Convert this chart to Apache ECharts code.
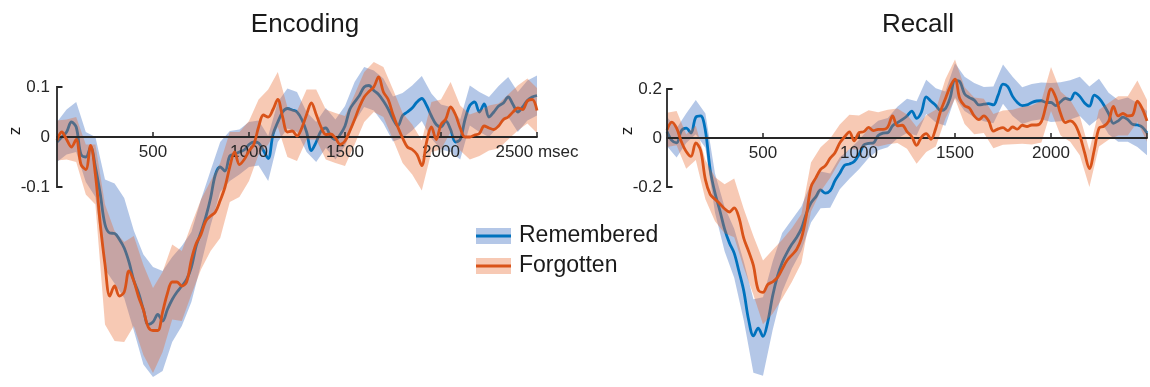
<!DOCTYPE html>
<html>
<head>
<meta charset="utf-8">
<script src="https://cdn.jsdelivr.net/npm/echarts@6/dist/echarts.min.js"></script>
<style>
html,body{margin:0;padding:0;background:#fff;}
#chart{width:1150px;height:387px;}
</style>
</head>
<body>
<div id="chart"></div>
<script>
// ---- time axis (msec), 25 ms samples for lines, every 2nd sample for bands ----
const times = Array.from({length: 101}, (_, i) => i * 25);
const xTicks = [500, 1000, 1500, 2000, 2500];
const encYTicks = [-0.1, 0, 0.1];
const recYTicks = [-0.2, 0, 0.2];
const panelTitles = ['Encoding', 'Recall'];
const seriesNames = ['Remembered', 'Forgotten'];

// ---- Encoding ----
const encRemembered = [
-0.01, 0.0, 0.01, 0.03, 0.02, -0.035, -0.04, -0.02, -0.06, -0.113,
-0.175, -0.192, -0.193, -0.205, -0.222, -0.25, -0.287, -0.312, -0.345, -0.375,
-0.37, -0.355, -0.368, -0.345, -0.325, -0.31, -0.298, -0.285, -0.26, -0.218,
-0.19, -0.16, -0.122, -0.075, -0.06, -0.068, -0.038, -0.034, -0.03, -0.026,
-0.015, -0.01, -0.012, -0.027, -0.043, 0.005, 0.03, 0.05, 0.057, 0.054,
0.05, 0.035, 0.01, -0.027, -0.01, 0.012, 0.018, 0.002, -0.005, 0.005,
0.022, 0.055, 0.07, 0.083, 0.1, 0.103, 0.093, 0.085, 0.072, 0.056,
0.036, 0.022, 0.043, 0.05, 0.058, 0.07, 0.077, 0.063, 0.042, 0.025,
0.02, 0.032, 0.015, -0.01, -0.005, 0.035, 0.063, 0.07, 0.05, 0.066,
0.04, 0.05, 0.062, 0.068, 0.08, 0.065, 0.05, 0.06, 0.073, 0.08,
0.083];
const encForgotten = [
-0.007, 0.01, -0.005, -0.02, -0.005, -0.055, -0.065, -0.017, -0.075, -0.173,
-0.255, -0.318, -0.298, -0.318, -0.31, -0.268, -0.288, -0.32, -0.346, -0.38,
-0.387, -0.387, -0.35, -0.313, -0.29, -0.29, -0.298, -0.29, -0.245, -0.213,
-0.195, -0.168, -0.158, -0.15, -0.127, -0.1, -0.06, -0.03, -0.055, -0.045,
-0.028, -0.015, 0.02, 0.044, 0.04, 0.055, 0.075, 0.04, 0.01, 0.012,
0.002, 0.018, 0.045, 0.068, 0.045, 0.02, 0.005, 0.006, -0.002, -0.015,
-0.008, 0.012, 0.035, 0.06, 0.08, 0.091, 0.1, 0.12, 0.09, 0.075,
0.045, 0.02, -0.002, -0.02, -0.025, -0.035, -0.057, -0.01, 0.02, -0.005,
0.025, 0.036, 0.06, 0.045, 0.018, 0, 0, 0.004, 0.007, 0.022,
0.018, 0.015, 0.022, 0.035, 0.04, 0.05, 0.058, 0.055, 0.072, 0.075,
0.053];
// band half-widths (SEM), every 50 ms
const encRememberedHW = [
0.04,0.045,0.05,0.05,0.06,0.09,0.1,0.1,0.1,0.11,
0.11,0.1,0.085,0.08,0.07,0.065,0.055,0.05,0.05,0.045,
0.045,0.045,0.045,0.04,0.04,0.04,0.04,0.04,0.04,0.04,
0.04,0.04,0.04,0.04,0.045,0.045,0.045,0.045,0.045,0.045,
0.045,0.045,0.04,0.04,0.04,0.04,0.04,0.04,0.04,0.04,
0.04];
const encForgottenHW = [
0.04,0.04,0.045,0.05,0.06,0.12,0.11,0.1,0.09,0.09,
0.085,0.08,0.075,0.07,0.07,0.07,0.07,0.075,0.07,0.065,
0.06,0.055,0.055,0.055,0.05,0.05,0.05,0.05,0.05,0.05,
0.05,0.05,0.05,0.05,0.05,0.05,0.05,0.05,0.05,0.05,
0.05,0.05,0.045,0.045,0.045,0.045,0.045,0.045,0.045,0.045,
0.045];

// ---- Recall ----
const recRemembered = [
0.026, -0.01, -0.02, 0.03, 0.04, 0.02, 0.085, 0.09, 0.03, -0.13,
-0.225, -0.295, -0.372, -0.428, -0.47, -0.545, -0.625, -0.742, -0.808, -0.776,
-0.81, -0.75, -0.645, -0.565, -0.508, -0.468, -0.434, -0.406, -0.37, -0.31,
-0.265, -0.24, -0.212, -0.225, -0.215, -0.174, -0.144, -0.111, -0.106, -0.096,
-0.068, -0.028, -0.022, -0.02, 0.01, 0.02, 0.022, 0.05, 0.063, 0.075,
0.09, 0.11, 0.08, 0.105, 0.168, 0.15, 0.133, 0.112, 0.12, 0.165,
0.235, 0.23, 0.18, 0.165, 0.155, 0.135, 0.138, 0.14, 0.135, 0.175,
0.22, 0.21, 0.17, 0.145, 0.132, 0.135, 0.145, 0.151, 0.152, 0.145,
0.145, 0.132, 0.148, 0.162, 0.156, 0.184, 0.17, 0.143, 0.13, 0.175,
0.162, 0.135, 0.1, 0.06, 0.07, 0.085, 0.075, 0.056, 0.053, 0.045,
0.02];
const recForgotten = [
0.033, 0.065, 0.04, -0.015, -0.055, -0.075, -0.02, -0.05, -0.17, -0.23,
-0.25, -0.268, -0.289, -0.302, -0.285, -0.325, -0.41, -0.462, -0.52, -0.62,
-0.63, -0.598, -0.587, -0.57, -0.535, -0.5, -0.478, -0.455, -0.41, -0.32,
-0.2, -0.163, -0.128, -0.113, -0.082, -0.06, -0.02, 0.005, 0.025, -0.012,
0.022, 0.026, 0.043, 0.03, 0.035, 0.035, 0.045, 0.09, 0.05, 0.052,
0.026, 0.005, -0.03, 0.003, 0.018, -0.005, 0.04, 0.11, 0.16, 0.21,
0.24, 0.16, 0.132, 0.122, 0.09, 0.075, 0.09, 0.07, 0.028, 0.037,
0.042, 0.03, 0.045, 0.036, 0.052, 0.047, 0.053, 0.053, 0.067, 0.135,
0.2, 0.165, 0.1, 0.063, 0.07, 0.055, 0.01, -0.06, -0.125, -0.05,
0.04, 0.048, 0.068, 0.129, 0.09, 0.1, 0.09, 0.094, 0.15, 0.12,
0.07];
const recRememberedHW = [
0.06,0.06,0.06,0.07,0.07,0.08,0.09,0.1,0.12,0.15,
0.16,0.14,0.12,0.1,0.09,0.08,0.075,0.07,0.065,0.06,
0.06,0.06,0.06,0.06,0.065,0.07,0.07,0.07,0.07,0.07,
0.07,0.07,0.07,0.07,0.075,0.08,0.08,0.075,0.075,0.075,
0.08,0.08,0.08,0.08,0.08,0.08,0.085,0.085,0.09,0.09,
0.09];
const recForgottenHW = [
0.07,0.07,0.07,0.07,0.08,0.09,0.1,0.12,0.12,0.12,
0.13,0.13,0.12,0.11,0.1,0.1,0.09,0.08,0.075,0.07,
0.07,0.07,0.07,0.07,0.07,0.07,0.075,0.075,0.075,0.08,
0.08,0.075,0.075,0.07,0.07,0.07,0.07,0.075,0.08,0.085,
0.09,0.09,0.085,0.08,0.075,0.075,0.075,0.08,0.08,0.085,
0.085];

// ---- styles ----
const BLUE = '#0072BD', ORANGE = '#D95319';
const BLUE_BAND = 'rgba(68,114,196,0.4)', ORANGE_BAND = 'rgba(232,100,40,0.35)';
const AXIS = '#262626';
const FONT = '"Liberation Sans", Arial, sans-serif';

// panel geometry: [left, top, width, height], y range
const panels = [
  {box: [57, 37, 480, 350], yMin: -0.5, yMax: 0.2},
  {box: [667, 40, 480, 343], yMin: -1.0, yMax: 0.4}
];

function bandSeries(idx, mean, hw, color, z) {
  const pts = hw.map((h, k) => [times[2 * k], mean[2 * k] - h, mean[2 * k] + h]);
  return {
    type: 'custom', xAxisIndex: idx, yAxisIndex: idx, silent: true, z: z,
    data: pts, encode: {x: 0, y: [1, 2]},
    renderItem: (params, api) => {
      if (params.dataIndex !== 0) return;
      const up = pts.map(p => api.coord([p[0], p[2]]));
      const lo = pts.map(p => api.coord([p[0], p[1]])).reverse();
      return {type: 'polygon', shape: {points: up.concat(lo)}, style: {fill: color}};
    }
  };
}
function lineSeries(idx, name, vals, color, z) {
  return {
    type: 'line', name: name, xAxisIndex: idx, yAxisIndex: idx, z: z,
    data: times.map((t, i) => [t, vals[i]]),
    showSymbol: false, smooth: 0.35, silent: true, animation: false,
    lineStyle: {color: color, width: 2.8}
  };
}
function bracketSeries(idx, ticks) {
  const lo = Math.min(...ticks), hi = Math.max(...ticks);
  return {
    type: 'custom', xAxisIndex: idx, yAxisIndex: idx, silent: true, z: 10,
    data: [[0, lo, hi]], encode: {x: 0, y: [1, 2]},
    renderItem: (params, api) => {
      const a = api.coord([0, hi]), b = api.coord([0, lo]);
      return {type: 'polyline', shape: {points: [[a[0] + 5.5, a[1]], a, b, [b[0] + 5.5, b[1]]]},
        style: {stroke: AXIS, lineWidth: 1.8, fill: null}};
    }
  };
}
function xAxisCfg(idx, lastLabel) {
  const p = panels[idx];
  // place the axis on y = 0 (distance from bottom of grid to zero line)
  const zeroFromBottom = p.box[3] * (0 - p.yMin) / (p.yMax - p.yMin);
  return {
    type: 'value', gridIndex: idx, min: 0, max: 2500, interval: 500, z: 6,
    position: 'bottom', offset: -zeroFromBottom,
    axisLine: {onZero: false, lineStyle: {color: AXIS, width: 1.8}},
    axisTick: {inside: true, length: 5, lineStyle: {color: AXIS, width: 1.5}, customValues: xTicks},
    splitLine: {show: false},
    axisLabel: {customValues: xTicks, color: AXIS, fontSize: 17, fontFamily: FONT, margin: 7,
      hideOverlap: false,
      formatter: v => v === 2500 ? lastLabel : String(v)}
  };
}
function yAxisCfg(idx, ticks, margin) {
  const p = panels[idx];
  return {
    type: 'value', gridIndex: idx, min: p.yMin, max: p.yMax,
    axisLine: {show: false}, axisTick: {show: false}, splitLine: {show: false},
    axisLabel: {customValues: ticks, color: AXIS, fontSize: 17, fontFamily: FONT, margin: margin,
      formatter: v => String(Math.round(v * 10) / 10)}
  };
}

const chart = echarts.init(document.getElementById('chart'), null, {renderer: 'canvas'});
const txt = (x, y, text, size, rot) => ({
  type: 'text', x: x, y: y, rotation: rot || 0, silent: true,
  style: {text: text, font: size + 'px ' + FONT, fill: '#1a1a1a',
    align: 'center', verticalAlign: 'middle', textAlign: 'center', textVerticalAlign: 'middle'}
});
const legendItem = (y, band, line, label) => ([
  {type: 'rect', shape: {x: 476, y: y - 8, width: 35, height: 16}, style: {fill: band}, silent: true},
  {type: 'line', shape: {x1: 476, y1: y, x2: 511, y2: y}, style: {stroke: line, lineWidth: 3}, silent: true},
  {type: 'text', x: 519, y: y, silent: true,
    style: {text: label, font: '23px ' + FONT, fill: '#1a1a1a', align: 'left', verticalAlign: 'middle',
      textAlign: 'left', textVerticalAlign: 'middle'}}
]);

chart.setOption({
  animation: false,
  backgroundColor: '#fff',
  grid: panels.map(p => ({left: p.box[0], top: p.box[1], width: p.box[2], height: p.box[3],
    containLabel: false, outerBoundsMode: 'none'})),
  xAxis: [xAxisCfg(0, '2500 msec'), xAxisCfg(1, '')],
  yAxis: [yAxisCfg(0, encYTicks, 7), yAxisCfg(1, recYTicks, 5)],
  series: [
    bandSeries(0, encRemembered, encRememberedHW, BLUE_BAND, 1),
    lineSeries(0, seriesNames[0], encRemembered, BLUE, 2),
    bandSeries(0, encForgotten, encForgottenHW, ORANGE_BAND, 3),
    lineSeries(0, seriesNames[1], encForgotten, ORANGE, 7),
    bracketSeries(0, encYTicks),
    bandSeries(1, recRemembered, recRememberedHW, BLUE_BAND, 1),
    lineSeries(1, seriesNames[0], recRemembered, BLUE, 2),
    bandSeries(1, recForgotten, recForgottenHW, ORANGE_BAND, 3),
    lineSeries(1, seriesNames[1], recForgotten, ORANGE, 7),
    bracketSeries(1, recYTicks)
  ],
  graphic: [
    txt(305, 25, panelTitles[0], 26),
    txt(918, 25, panelTitles[1], 26),
    txt(15, 131, 'z', 17, Math.PI / 2),
    txt(627, 131, 'z', 17, Math.PI / 2),
    ...legendItem(236, BLUE_BAND, BLUE, seriesNames[0]),
    ...legendItem(266, ORANGE_BAND, ORANGE, seriesNames[1])
  ]
});
</script>
</body>
</html>
